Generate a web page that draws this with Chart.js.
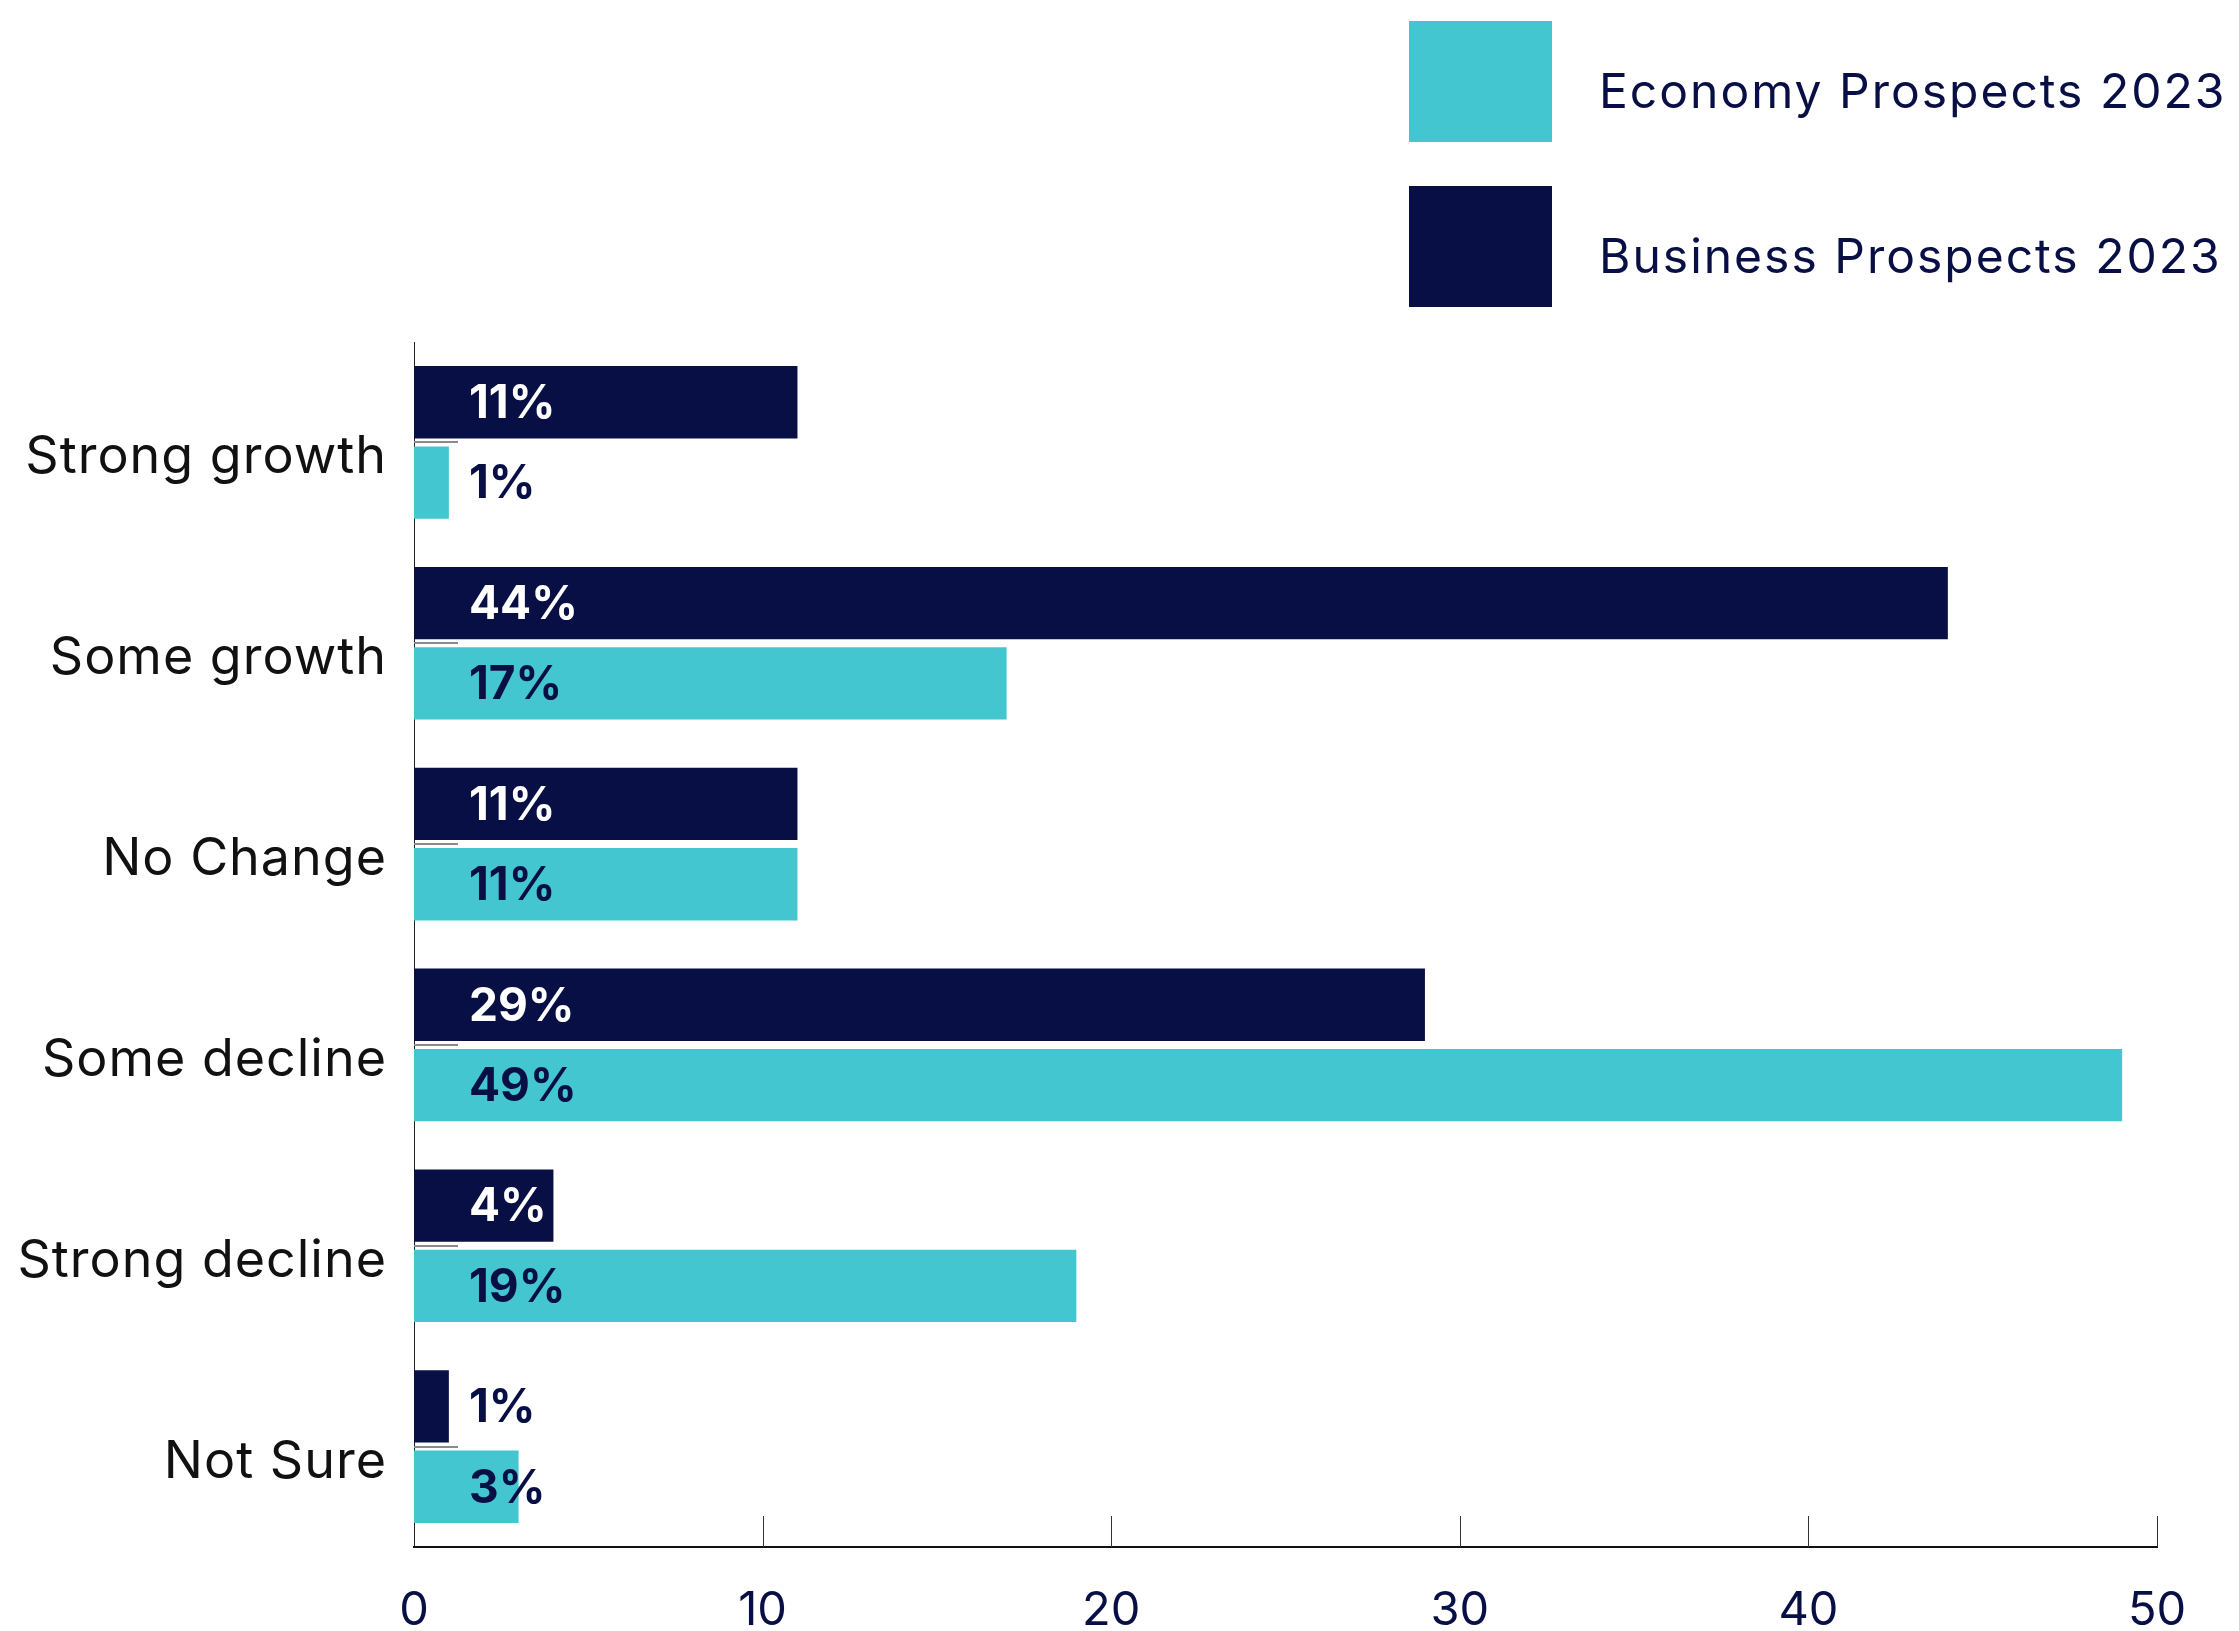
<!DOCTYPE html>
<html>
<head>
<meta charset="utf-8">
<script src="https://cdn.jsdelivr.net/npm/chart.js@4/dist/chart.umd.min.js"></script>
<style>
  html, body { margin: 0; padding: 0; background: #fff; }
  #wrap { position: relative; width: 2239px; height: 1631px; }
</style>
</head>
<body>
<div id="wrap"><canvas id="grafica" width="2239" height="1631"></canvas></div>
<script>
// Categorías y valores (%)
const categorias = ['Strong growth', 'Some growth', 'No Change', 'Some decline', 'Strong decline', 'Not Sure'];
const negocio2023 = [11, 44, 11, 29, 4, 1];
const economia2023 = [1, 17, 11, 49, 19, 3];
const ticksX = [0, 10, 20, 30, 40, 50];

const NAVY = '#070F45';
const CIAN = '#44C6D0';
const FUENTE = 'Inter, "DejaVu Sans", sans-serif';

// Marcas cortas de los ejes, nombres de categoría, etiquetas de porcentaje y leyenda
const extras = {
    id: 'extras',
    afterDatasetsDraw(chart) {
        const ctx = chart.ctx;
        const x = chart.scales.x;
        const y = chart.scales.y;
        const area = chart.chartArea;
        ctx.save();

        // marcas verticales sobre el eje x
        ctx.strokeStyle = '#333';
        ctx.lineWidth = 1;
        ticksX.forEach(v => {
            if (v === 0) return;
            const px = Math.round(x.getPixelForValue(v)) + 0.5;
            ctx.beginPath();
            ctx.moveTo(px, area.bottom - 31);
            ctx.lineTo(px, area.bottom);
            ctx.stroke();
        });

        // marcas grises en el centro de cada categoría
        ctx.strokeStyle = '#8a8a8a';
        ctx.lineWidth = 2;
        categorias.forEach((c, i) => {
            const py = Math.round(y.getPixelForValue(i));
            ctx.beginPath();
            ctx.moveTo(area.left, py);
            ctx.lineTo(area.left + 44, py);
            ctx.stroke();
        });

        // nombres de categoría (con espaciado entre letras)
        ctx.font = '52px ' + FUENTE;
        ctx.letterSpacing = '1px';
        ctx.textAlign = 'right';
        ctx.textBaseline = 'alphabetic';
        ctx.fillStyle = '#111';
        categorias.forEach((c, i) => {
            ctx.fillText(c, area.left - 27, y.getPixelForValue(i) + 31);
        });
        ctx.letterSpacing = '0px';

        // etiquetas de porcentaje
        ctx.font = 'bold 46px ' + FUENTE;
        ctx.textAlign = 'left';
        ctx.textBaseline = 'middle';
        const x0 = x.getPixelForValue(0) + 55;
        chart.data.datasets.forEach((ds, d) => {
            const meta = chart.getDatasetMeta(d);
            meta.data.forEach((bar, i) => {
                const v = ds.data[i];
                const tapa = ds.backgroundColor === NAVY && bar.x > x0 + 40;
                ctx.fillStyle = tapa ? '#fff' : NAVY;
                ctx.fillText(v + '%', x0, bar.y + 2);
            });
        });

        // leyenda (orden inverso)
        const filas = [
            { ds: chart.data.datasets[1], top: 21, base: 108 },
            { ds: chart.data.datasets[0], top: 186, base: 273 }
        ];
        ctx.font = '48px ' + FUENTE;
        ctx.letterSpacing = '2px';
        ctx.textBaseline = 'alphabetic';
        filas.forEach(f => {
            ctx.fillStyle = f.ds.backgroundColor;
            ctx.fillRect(1409, f.top, 143, 121);
            ctx.fillStyle = NAVY;
            ctx.fillText(f.ds.label, 1599, f.base);
        });
        ctx.letterSpacing = '0px';
        ctx.restore();
    }
};

const ctx = document.getElementById('grafica').getContext('2d');
window.myChart = new Chart(ctx, {
    type: 'bar',
    data: {
        labels: categorias,
        datasets: [
            { label: 'Business Prospects 2023', data: negocio2023, backgroundColor: NAVY },
            { label: 'Economy Prospects 2023', data: economia2023, backgroundColor: CIAN }
        ]
    },
    options: {
        indexAxis: 'y',
        responsive: false,
        animation: false,
        devicePixelRatio: 1,
        categoryPercentage: 0.8,
        barPercentage: 0.9,
        layout: { padding: { top: 342, right: 82, left: 0, bottom: 0 } },
        plugins: {
            legend: { display: false },
            tooltip: { enabled: false }
        },
        scales: {
            x: {
                type: 'linear',
                min: 0,
                max: 50,
                afterBuildTicks: s => { s.ticks = ticksX.map(v => ({ value: v })); },
                afterFit: s => { s.height = 84; },
                grid: { display: false, drawTicks: false },
                border: { display: true, color: '#111', width: 2 },
                ticks: {
                    color: NAVY,
                    padding: 36,
                    font: { family: FUENTE, size: 47 }
                }
            },
            y: {
                afterFit: s => { s.width = 414; },
                grid: { display: false, drawTicks: false },
                border: { display: true, color: '#222', width: 1 },
                ticks: { display: false }
            }
        }
    },
    plugins: [extras]
});
</script>
</body>
</html>
